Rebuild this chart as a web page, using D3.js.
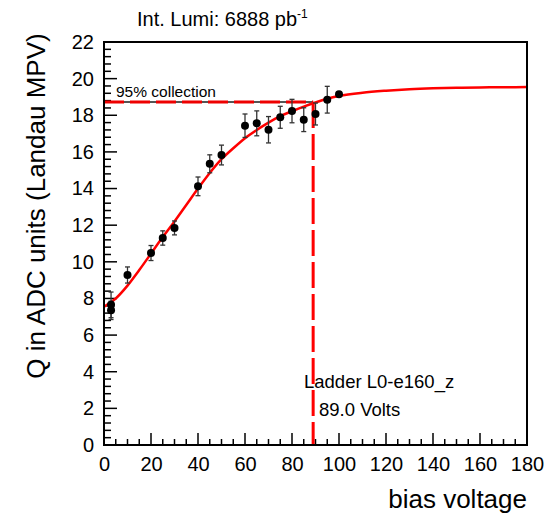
<!DOCTYPE html>
<html><head><meta charset="utf-8">
<script src="https://cdn.jsdelivr.net/npm/d3@7"></script>
<style>
body{margin:0;background:#fff;}
svg{display:block;font-family:"Liberation Sans",Arial,Helvetica,sans-serif;}
</style></head>
<body><svg id="c" width="548" height="518"></svg>
<script>
// ---- data ----
const voltages = [3, 3, 10, 20, 25, 30, 40, 45, 50, 60, 65, 70, 75, 80, 85, 90, 95, 100];
const charge   = [7.65, 7.35, 9.28, 10.48, 11.3, 11.85, 14.12, 15.35, 15.83, 17.43, 17.56, 17.21, 17.89, 18.23, 17.76, 18.07, 18.85, 19.15];
const chargeErr= [0.7, 0.5, 0.44, 0.41, 0.39, 0.38, 0.51, 0.49, 0.54, 0.64, 0.68, 0.72, 0.6, 0.64, 0.65, 0.6, 0.73, 0.08];

const fitV = [0,5,10,15,20,25,30,35,40,45,50,55,60,65,70,75,80,85,90,95,100,110,120,130,140,150,160,170,180];
const fitQ = [7.55,8.0,8.7,9.55,10.45,11.35,12.2,13.1,14.0,14.85,15.6,16.2,16.75,17.2,17.6,17.95,18.22,18.47,18.7,18.9,19.05,19.23,19.34,19.42,19.47,19.5,19.52,19.53,19.54];

const thresholdV = 89.0;
const thresholdQ = 18.72;

const xTicks = [0,20,40,60,80,100,120,140,160,180];
const yTicks = [0,2,4,6,8,10,12,14,16,18,20,22];

const title = "Int. Lumi: 6888 pb";
const titleSup = "-1";
const xLabel = "bias voltage";
const yLabel = "Q in ADC units (Landau MPV)";
const ladderText = "Ladder L0-e160_z";
const voltsText = "89.0 Volts";
const collText = "95% collection";

// ---- drawing ----
const svg = d3.select("#c");
const L = 104, R = 527, T = 42, B = 445;
const x = d3.scaleLinear().domain([0,180]).range([L,R]);
const y = d3.scaleLinear().domain([0,22]).range([B,T]);

// minor / major ticks (inward)
const g = svg.append("g");
const yMinor = d3.range(0, 22.001, 0.4);
g.selectAll("line.ym").data(yMinor).enter().append("line")
  .attr("x1", L).attr("x2", d => (Math.abs(d/2 - Math.round(d/2)) < 1e-6) ? L+13 : L+7)
  .attr("y1", d => y(d)).attr("y2", d => y(d))
  .attr("stroke","#000").attr("stroke-width",1.5);
const xMinor = d3.range(0, 180.001, 5);
g.selectAll("line.xm").data(xMinor).enter().append("line")
  .attr("y1", B).attr("y2", d => (d % 20 === 0) ? B-12 : B-6)
  .attr("x1", d => x(d)).attr("x2", d => x(d))
  .attr("stroke","#000").attr("stroke-width",1.5);

// axes via d3 axis for labels
const xAxis = d3.axisBottom(x).tickValues(xTicks).tickSize(0).tickPadding(12).tickFormat(d3.format("d"));
const gx = svg.append("g").attr("transform",`translate(0,${B})`).call(xAxis);
gx.select(".domain").remove();
gx.selectAll("text").attr("font-size",20).attr("fill","#000").attr("font-family","Liberation Sans, Arial, sans-serif");

const yAxis = d3.axisLeft(y).tickValues(yTicks).tickSize(0).tickPadding(10).tickFormat(d3.format("d"));
const gy = svg.append("g").attr("transform",`translate(${L},0)`).call(yAxis);
gy.select(".domain").remove();
gy.selectAll("text").attr("font-size",20).attr("fill","#000").attr("font-family","Liberation Sans, Arial, sans-serif");

// threshold lines
svg.append("line").attr("x1", x(0)).attr("x2", x(thresholdV)).attr("y1", y(thresholdQ)).attr("y2", y(thresholdQ))
  .attr("stroke","#555").attr("stroke-width",2);
svg.append("line").attr("x1", x(0)).attr("x2", x(thresholdV)).attr("y1", y(thresholdQ)).attr("y2", y(thresholdQ))
  .attr("stroke","#e00").attr("stroke-width",3).attr("stroke-dasharray","20,6");
svg.append("line").attr("x1", x(thresholdV)).attr("x2", x(thresholdV)).attr("y1", y(thresholdQ)).attr("y2", y(0))
  .attr("stroke","#f00").attr("stroke-width",3).attr("stroke-dasharray","26,6");

// fit curve
const line = d3.line().x((d,i)=>x(fitV[i])).y((d,i)=>y(fitQ[i])).curve(d3.curveMonotoneX);
svg.append("path").attr("d", line(fitV)).attr("fill","none").attr("stroke","#f00").attr("stroke-width",2.5);

// error bars
const eg = svg.append("g").attr("stroke","#333").attr("stroke-width",1.3);
voltages.forEach((v,i)=>{
  const cx = x(v), y1 = y(charge[i]+chargeErr[i]), y2 = y(charge[i]-chargeErr[i]);
  eg.append("line").attr("x1",cx).attr("x2",cx).attr("y1",y1).attr("y2",y2);
  eg.append("line").attr("x1",cx-2.5).attr("x2",cx+2.5).attr("y1",y1).attr("y2",y1);
  eg.append("line").attr("x1",cx-2.5).attr("x2",cx+2.5).attr("y1",y2).attr("y2",y2);
});
svg.append("g").selectAll("circle").data(voltages).enter().append("circle")
  .attr("cx", d=>x(d)).attr("cy",(d,i)=>y(charge[i])).attr("r",4).attr("fill","#000");

// frame
svg.append("rect").attr("x",L).attr("y",T).attr("width",R-L).attr("height",B-T)
  .attr("fill","none").attr("stroke","#000").attr("stroke-width",2);

// texts
const t = svg.append("text").attr("x",137).attr("y",26).attr("font-size",20).attr("fill","#000");
t.append("tspan").text(title);
t.append("tspan").attr("font-size",12).attr("dy",-8).text(titleSup);

svg.append("text").attr("x",R).attr("y",508).attr("text-anchor","end").attr("font-size",26).text(xLabel);
svg.append("text").attr("transform","translate(45,206) rotate(-90)").attr("text-anchor","middle").attr("font-size",26).text(yLabel);
svg.append("text").attr("x",116).attr("y",97).attr("font-size",15.5).text(collText);
svg.append("text").attr("x",304).attr("y",388).attr("font-size",18.5).text(ladderText);
svg.append("text").attr("x",319).attr("y",416).attr("font-size",18.5).text(voltsText);
</script></body></html>
